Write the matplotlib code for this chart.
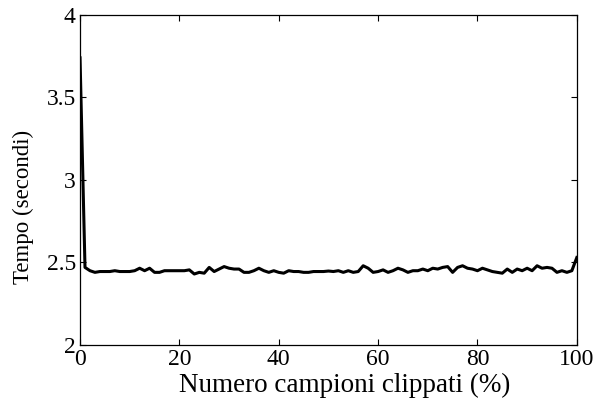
import numpy as np
import matplotlib
matplotlib.use("Agg")
import matplotlib.pyplot as plt

plt.rcParams['font.family'] = ['Liberation Serif', 'DejaVu Serif']

campioni = list(range(0, 101))
tempo = [
    3.74, 2.47, 2.45, 2.44, 2.445, 2.445, 2.445, 2.45, 2.445, 2.445,
    2.445, 2.45, 2.465, 2.45, 2.465, 2.44, 2.44, 2.45, 2.45, 2.45,
    2.45, 2.45, 2.455, 2.43, 2.44, 2.435, 2.47, 2.445, 2.46, 2.475,
    2.465, 2.46, 2.46, 2.44, 2.44, 2.45, 2.465, 2.45, 2.44, 2.45,
    2.44, 2.435, 2.45, 2.445, 2.445, 2.44, 2.44, 2.445, 2.445, 2.445,
    2.448, 2.445, 2.45, 2.44, 2.45, 2.44, 2.445, 2.48, 2.465, 2.44,
    2.445, 2.455, 2.44, 2.45, 2.465, 2.455, 2.44, 2.45, 2.45, 2.46,
    2.45, 2.465, 2.46, 2.47, 2.475, 2.44, 2.47, 2.48, 2.465, 2.46,
    2.45, 2.465, 2.455, 2.445, 2.44, 2.435, 2.46, 2.44, 2.46, 2.45,
    2.465, 2.45, 2.48, 2.465, 2.47, 2.465, 2.44, 2.45, 2.44, 2.45,
    2.53,
]
xticks = [0, 20, 40, 60, 80, 100]
yticks = [2, 2.5, 3, 3.5, 4]
yticklabels = ['2', '2.5', '3', '3.5', '4']

fig = plt.figure(figsize=(6.04, 4.03), dpi=100)
ax = fig.add_axes([0.1325, 0.144, 0.8225, 0.819])
ax.plot(campioni, tempo, color='black', linewidth=2.2)

ax.set_xlim(0, 100)
ax.set_ylim(2, 4)
ax.set_xticks(xticks)
ax.set_yticks(yticks)
ax.set_yticklabels(yticklabels)
ax.tick_params(direction='in', length=4, width=0.8, labelsize=17,
               top=True, right=True, pad=3)
for s in ax.spines.values():
    s.set_linewidth(0.9)

ax.set_xlabel('Numero campioni clippati (%)', fontsize=19.5)
ax.xaxis.set_label_coords(0.533, -0.085)
ax.set_ylabel('Tempo (secondi)', fontsize=16.5)
ax.yaxis.set_label_coords(-0.093, 0.418)

fig.savefig('out.png', dpi=100)
